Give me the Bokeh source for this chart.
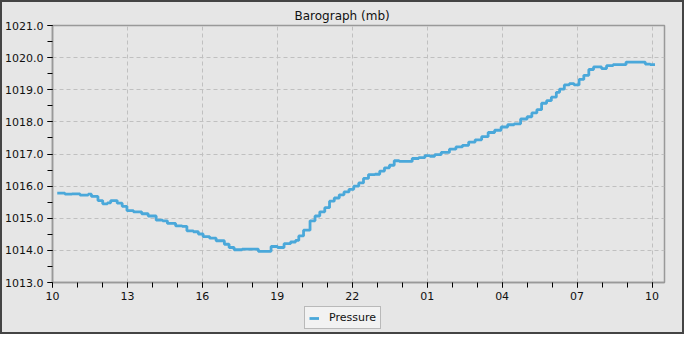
from bokeh.plotting import figure
from bokeh.layouts import column
from bokeh.models import FixedTicker, Legend, LegendItem, Range1d, NumeralTickFormatter
from bokeh.embed import file_html
from bokeh.resources import INLINE

# hours since 00:00 of the first day
hours = [10.19, 10.5, 10.78, 11.1, 11.43, 11.56, 11.82, 12.01, 12.2, 12.33, 12.59, 12.79,
         12.98, 13.24, 13.57, 13.83, 14.15, 14.41, 14.6, 14.93, 15.19, 15.38, 15.64, 15.84,
         16.03, 16.29, 16.55, 16.88, 17.07, 17.27, 17.59, 17.98, 18.24, 18.5, 18.75, 19.01,
         19.27, 19.53, 19.73, 19.86, 20.05, 20.31, 20.51, 20.7, 20.9, 21.09, 21.28, 21.48,
         21.67, 21.87, 22.06, 22.26, 22.45, 22.65, 22.91, 23.1, 23.29, 23.49, 23.68, 23.88,
         24.14, 24.4, 24.66, 24.91, 25.11, 25.3, 25.56, 25.89, 26.15, 26.41, 26.66, 26.92,
         27.18, 27.44, 27.7, 27.96, 28.22, 28.48, 28.74, 29.0, 29.19, 29.39, 29.58, 29.78,
         29.97, 30.17, 30.3, 30.49, 30.69, 30.88, 31.08, 31.27, 31.47, 31.66, 31.86, 31.98,
         32.18, 32.44, 32.7, 32.96, 33.22, 33.47, 33.73, 33.93, 34.12]
pressure = [1015.78, 1015.75, 1015.76, 1015.72, 1015.75, 1015.68, 1015.55, 1015.45, 1015.48,
            1015.55, 1015.47, 1015.37, 1015.24, 1015.20, 1015.14, 1015.07, 1014.94, 1014.92,
            1014.84, 1014.76, 1014.75, 1014.61, 1014.58, 1014.51, 1014.43, 1014.38, 1014.30,
            1014.19, 1014.09, 1014.02, 1014.04, 1014.04, 1013.97, 1013.97, 1014.12, 1014.09,
            1014.21, 1014.26, 1014.31, 1014.45, 1014.63, 1014.92, 1015.07, 1015.20, 1015.33,
            1015.53, 1015.63, 1015.73, 1015.82, 1015.90, 1016.00, 1016.10, 1016.24, 1016.36,
            1016.37, 1016.47, 1016.57, 1016.65, 1016.79, 1016.77, 1016.77, 1016.86, 1016.89,
            1016.95, 1016.93, 1016.98, 1017.05, 1017.15, 1017.22, 1017.27, 1017.37, 1017.44,
            1017.54, 1017.67, 1017.74, 1017.84, 1017.91, 1017.94, 1018.09, 1018.16, 1018.28,
            1018.38, 1018.58, 1018.66, 1018.77, 1018.92, 1019.02, 1019.15, 1019.19, 1019.15,
            1019.32, 1019.45, 1019.63, 1019.71, 1019.71, 1019.66, 1019.75, 1019.78, 1019.78,
            1019.86, 1019.86, 1019.86, 1019.80, 1019.78, 1019.78]

x_ticks = [10, 13, 16, 19, 22, 25, 28, 31, 34]
x_tick_labels = ["10", "13", "16", "19", "22", "01", "04", "07", "10"]
y_ticks = [1013, 1014, 1015, 1016, 1017, 1018, 1019, 1020, 1021]
series_name = "Pressure"
title_text = "Barograph (mb)"

BG = "#e6e6e6"
LINE = "#4aa8da"
W = 680

p = figure(width=W, height=302, output_backend="svg", toolbar_location=None,
           x_range=Range1d(10, 34.5), y_range=Range1d(1013, 1021),
           background_fill_color=BG, border_fill_color=BG,
           min_border_left=48, min_border_right=18, min_border_top=23, min_border_bottom=22)

p.title.text = title_text
p.title.align = "left"
p.title.offset = 242
p.title.text_font = "DejaVu Sans"
p.title.text_font_size = "12px"
p.title.text_font_style = "normal"
p.title.text_color = "#111111"
p.title.standoff = 6

p.outline_line_color = "#999999"
p.outline_line_width = 1.5

r = p.step(hours, pressure, mode="after", line_color=LINE, line_width=2.8)

p.xaxis.ticker = FixedTicker(ticks=x_ticks, minor_ticks=[h for h in range(10, 35)])
p.xaxis.major_label_overrides = {t: l for t, l in zip(x_ticks, x_tick_labels)}
p.yaxis.ticker = FixedTicker(ticks=y_ticks, minor_ticks=[1013 + 0.5 * i for i in range(17)])
p.yaxis.formatter = NumeralTickFormatter(format="0.0")

for ax in (p.xaxis, p.yaxis):
    ax.axis_line_color = "#999999"
    ax.axis_line_width = 1.5
    ax.major_tick_line_color = "#000000"
    ax.minor_tick_line_color = "#000000"
    ax.major_tick_out = 5
    ax.major_tick_in = 0
    ax.minor_tick_out = 5
    ax.minor_tick_in = 0
    ax.major_label_text_font = "DejaVu Sans"
    ax.major_label_text_font_size = "11px"
    ax.major_label_text_color = "#111111"
    ax.major_label_standoff = 4

p.grid.grid_line_color = "#c0c0c0"
p.grid.grid_line_dash = "4 3"
p.grid.grid_line_width = 1

# legend strip under the chart (its own small figure, same series)
lg = figure(width=W, height=28, output_backend="svg", toolbar_location=None,
            x_range=Range1d(0, 1), y_range=Range1d(0, 1),
            x_axis_location=None, y_axis_location=None,
            background_fill_color=None, border_fill_color=BG, outline_line_color=None,
            min_border=0)
lg.grid.visible = False
lr = lg.step(hours, pressure, mode="after", line_color=LINE, line_width=2.8)

legend = Legend(items=[LegendItem(label=series_name, renderers=[lr])],
                location=(252, 3), orientation="horizontal",
                background_fill_color="#f2f2f2", background_fill_alpha=1.0,
                border_line_color="#808080", border_line_width=1,
                label_text_font="DejaVu Sans", label_text_font_size="11px",
                label_text_color="#111111",
                glyph_width=10, glyph_height=12, label_height=12,
                padding=4, spacing=0, margin=0, label_standoff=10)
lg.add_layout(legend)

layout = column(p, lg, spacing=0,
                styles={"background-color": BG, "border": "2px solid #444444"})
open("out.html", "w").write(file_html(layout, INLINE))
